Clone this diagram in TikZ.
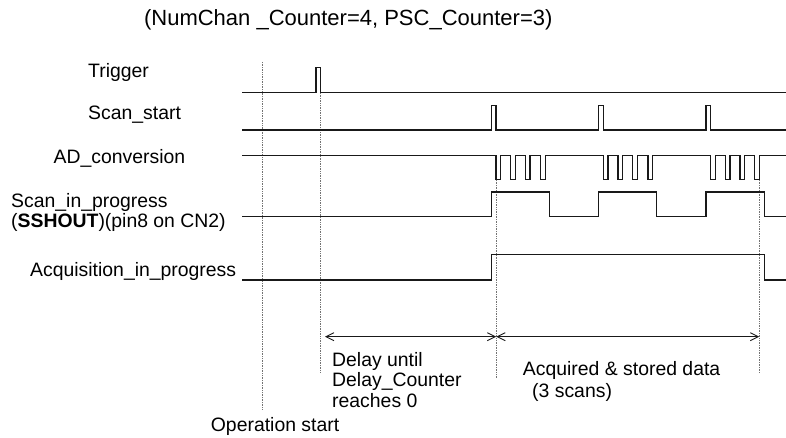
\documentclass[tikz,border=0pt]{standalone}
\usepackage{fontspec}
\setmainfont{Liberation Sans}
\usetikzlibrary{arrows.meta}
\begin{document}
\begin{tikzpicture}[x=1pt,y=-1pt,
  sig/.style={draw=black!90,line width=1.1pt,line join=miter},
  guide/.style={draw=black!55,densely dotted,line width=0.7pt},
  dimline/.style={draw=black!90,line width=0.9pt,{Straight Barb[length=8pt,width=8pt]}-{Straight Barb[length=8pt,width=8pt]}},
  lbl/.style={font=\fontsize{19.4}{20.7}\selectfont,inner sep=0pt,anchor=west,align=left},
  ttl/.style={font=\fontsize{22}{24}\selectfont,inner sep=0pt}]
\useasboundingbox (0,0) rectangle (786,438);

% title
\node[ttl] (title) at (348.3,20) {(NumChan \_Counter=4, PSC\_Counter=3)};

% signal labels
\node[lbl] (ltrig) at (88,72.5) {Trigger};
\node[lbl] (lscan) at (88,115) {Scan\_start};
\node[lbl] (lad) at (53.5,158.5) {AD\_conversion};
\node[lbl,font=\fontsize{19.4}{19.5}\selectfont] (lsip) at (11,212.5) {Scan\_in\_progress\\(\textbf{SSHOUT})(pin8 on CN2)};
\node[lbl] (lacq) at (30,271) {Acquisition\_in\_progress};

% guides
\coordinate (g0t) at (262,62);   \coordinate (g0b) at (262,410);
\coordinate (g1t) at (320.7,93); \coordinate (g1b) at (320.7,372.7);
\coordinate (g2t) at (496.3,180);\coordinate (g2b) at (496.3,378);
\coordinate (g3t) at (759.3,180);\coordinate (g3b) at (759.3,372.7);
\draw[guide] (g0t) -- (g0b);
\draw[guide] (g1t) -- (g1b);
\draw[guide] (g2t) -- (g2b);
\draw[guide] (g3t) -- (g3b);

% Trigger
\draw[sig] (242,92.7) -- (316,92.7) -- (316,67.3) -- (320.7,67.3) -- (320.7,92.7) -- (786,92.7);

% Scan_start
\draw[sig] (242,130) foreach \s in {491.3,598.7,706} { -- (\s,130) -- (\s,105.3) -- (\s+4.7,105.3) -- (\s+4.7,130) } -- (786,130);

% AD_conversion
\draw[sig] (242,155.3) foreach \a in {496,510.7,525.3,540.5, 603.3,618,632.7,648, 710.7,725.3,740,754.7} { -- (\a,155.3) -- (\a,179.3) -- (\a+4.7,179.3) -- (\a+4.7,155.3) } -- (786,155.3);

% Scan_in_progress
\draw[sig] (242,216.7) foreach \r/\f in {491.3/549.3,598.7/656.7,706/764.7} { -- (\r,216.7) -- (\r,192) -- (\f,192) -- (\f,216.7) } -- (786,216.7);

% Acquisition_in_progress
\draw[sig] (242,280) -- (491.3,280) -- (491.3,254.7) -- (764.7,254.7) -- (764.7,280) -- (786,280);

% dimension arrows
\coordinate (d0) at (325,336.7);
\coordinate (d1) at (496.3,336.7);
\coordinate (d2) at (759.3,336.7);
\draw[dimline] (d0) -- (d1);
\draw[dimline] (d1) -- (d2);

% annotations
\node[lbl] (tdelay) at (332,380) {Delay until\\Delay\_Counter\\reaches 0};
\node[lbl,font=\fontsize{19.4}{22}\selectfont] (tacq) at (522.7,381.7) {Acquired \& stored data\\\hspace{9.3pt}(3 scans)};
\node[lbl] (top) at (210.7,426.7) {Operation start};
\end{tikzpicture}
\end{document}
